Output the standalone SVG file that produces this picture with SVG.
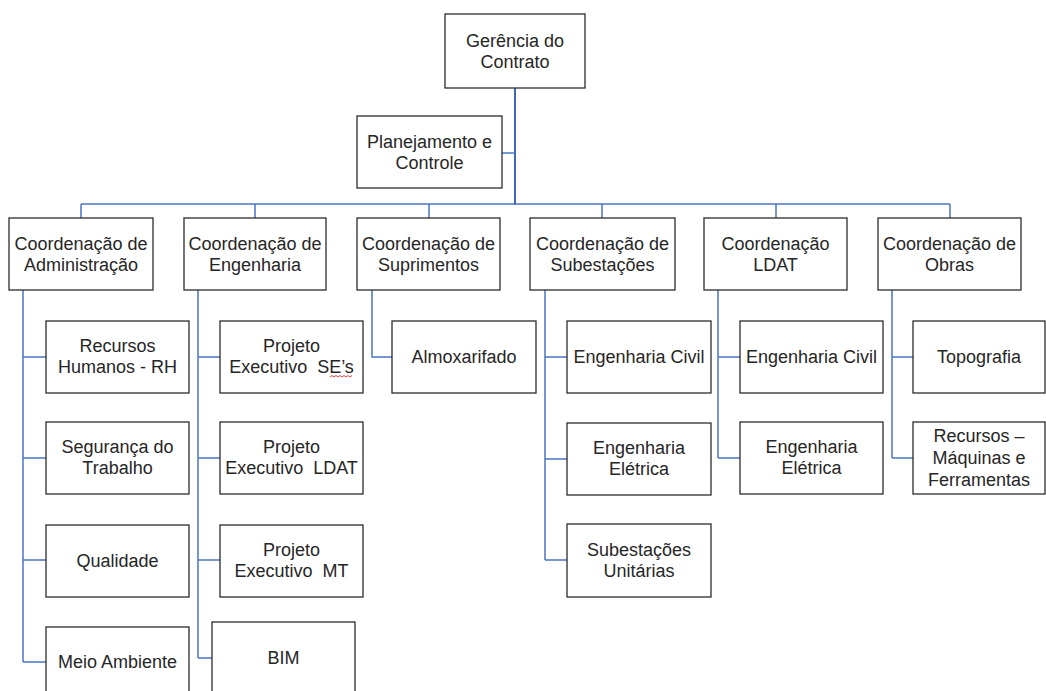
<svg xmlns="http://www.w3.org/2000/svg" width="1046" height="691" viewBox="0 0 1046 691">
<style>
.box{fill:#fff;stroke:#2b2b2b;stroke-width:1.3}
text{font-family:"Liberation Sans",Arial,sans-serif;font-size:18px;fill:#262626;text-anchor:middle;white-space:pre}
.ln{fill:none;stroke:#4a76c2;stroke-width:1.5}
.trunk{fill:none;stroke:#4066b0;stroke-width:2}
</style>
<rect width="1046" height="691" fill="#fff"/>
<g id="connectors">
<path class="trunk" d="M515 88V205"/>
<path class="ln" d="M502 153H515"/>
<path class="ln" d="M81 204H950"/>
<path class="ln" d="M81 204V218M255 204V218M429 204V218M602 204V218M776 204V218M950 204V218"/>
<path class="ln" d="M23 290V662M23 357H46M23 458H46M23 560H46M23 662H46"/>
<path class="ln" d="M198 290V658M198 357H220M198 458H220M198 560H220M198 658H212"/>
<path class="ln" d="M372 290V357H392"/>
<path class="ln" d="M545 290V560M545 357H567M545 459H567M545 560H567"/>
<path class="ln" d="M718 290V458M718 357H740M718 458H740"/>
<path class="ln" d="M892 290V458M892 357H913M892 458H913"/>
</g>
<g id="gerencia"><rect class="box" x="445" y="14" width="140" height="74"/><text x="515" y="47">Gerência do</text><text x="515" y="68">Contrato</text></g>
<g id="planejamento"><rect class="box" x="357" y="116" width="145" height="72"/><text x="429.5" y="148">Planejamento e</text><text x="429.5" y="169">Controle</text></g>
<g id="coord-admin"><rect class="box" x="9" y="218" width="144" height="72"/><text x="81" y="250">Coordenação de</text><text x="81" y="271">Administração</text></g>
<g id="coord-eng"><rect class="box" x="184" y="218" width="142" height="72"/><text x="255" y="250">Coordenação de</text><text x="255" y="271">Engenharia</text></g>
<g id="coord-supr"><rect class="box" x="357" y="218" width="143" height="72"/><text x="428.5" y="250">Coordenação de</text><text x="428.5" y="271">Suprimentos</text></g>
<g id="coord-subest"><rect class="box" x="530" y="218" width="145" height="72"/><text x="602.5" y="250">Coordenação de</text><text x="602.5" y="271">Subestações</text></g>
<g id="coord-ldat"><rect class="box" x="704" y="218" width="143" height="72"/><text x="775.5" y="250">Coordenação</text><text x="775.5" y="271">LDAT</text></g>
<g id="coord-obras"><rect class="box" x="878" y="218" width="143" height="72"/><text x="949.5" y="250">Coordenação de</text><text x="949.5" y="271">Obras</text></g>
<g id="rh"><rect class="box" x="46" y="321" width="143" height="72"/><text x="117.5" y="352">Recursos</text><text x="117.5" y="373">Humanos - RH</text></g>
<g id="seguranca"><rect class="box" x="46" y="422" width="143" height="72"/><text x="117.5" y="453">Segurança do</text><text x="117.5" y="474">Trabalho</text></g>
<g id="qualidade"><rect class="box" x="46" y="525" width="143" height="72"/><text x="117.5" y="567">Qualidade</text></g>
<g id="meio-ambiente"><rect class="box" x="46" y="627" width="143" height="72"/><text x="117.5" y="668">Meio Ambiente</text></g>
<g id="pe-ses"><rect class="box" x="220" y="321" width="143" height="72"/><text x="291.5" y="352">Projeto</text><text x="291.5" y="373">Executivo  SE’s</text><path d="M330 377l2 -1.5 2 1.5 2 -1.5 2 1.5 2 -1.5 2 1.5 2 -1.5 2 1.5 2 -1.5 2 1.5 2 -1.5" fill="none" stroke="#e03030" stroke-width="0.9"/></g>
<g id="pe-ldat"><rect class="box" x="220" y="422" width="143" height="72"/><text x="291.5" y="453">Projeto</text><text x="291.5" y="474">Executivo  LDAT</text></g>
<g id="pe-mt"><rect class="box" x="220" y="525" width="143" height="72"/><text x="291.5" y="556">Projeto</text><text x="291.5" y="577">Executivo  MT</text></g>
<g id="bim"><rect class="box" x="212" y="622" width="143" height="72"/><text x="283.5" y="664">BIM</text></g>
<g id="almox"><rect class="box" x="392" y="321" width="144" height="72"/><text x="464" y="363">Almoxarifado</text></g>
<g id="sub-civil"><rect class="box" x="567" y="321" width="144" height="72"/><text x="639" y="363">Engenharia Civil</text></g>
<g id="sub-eletrica"><rect class="box" x="567" y="423" width="144" height="72"/><text x="639" y="454">Engenharia</text><text x="639" y="475">Elétrica</text></g>
<g id="sub-unitarias"><rect class="box" x="567" y="524" width="144" height="73"/><text x="639" y="556">Subestações</text><text x="639" y="577">Unitárias</text></g>
<g id="ldat-civil"><rect class="box" x="740" y="321" width="143" height="72"/><text x="811.5" y="363">Engenharia Civil</text></g>
<g id="ldat-eletrica"><rect class="box" x="740" y="422" width="143" height="72"/><text x="811.5" y="453">Engenharia</text><text x="811.5" y="474">Elétrica</text></g>
<g id="topografia"><rect class="box" x="913" y="321" width="132" height="72"/><text x="979" y="363">Topografia</text></g>
<g id="recursos-maq"><rect class="box" x="913" y="422" width="132" height="72"/><text x="979" y="442">Recursos –</text><text x="979" y="464">Máquinas e</text><text x="979" y="486">Ferramentas</text></g>
</svg>
